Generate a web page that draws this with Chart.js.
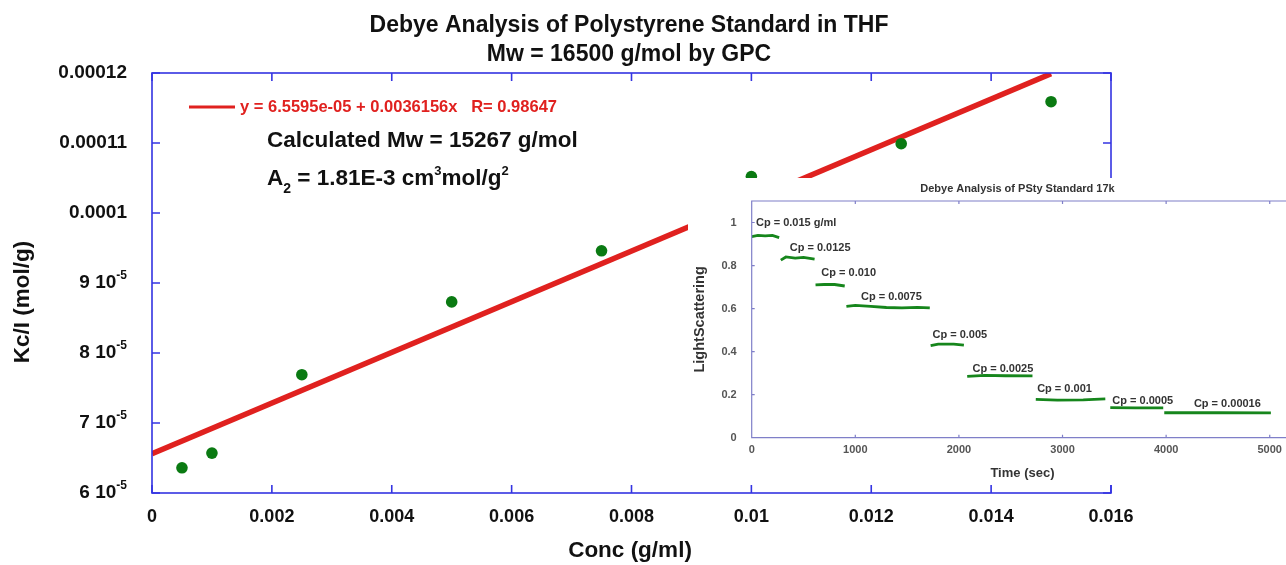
<!DOCTYPE html>
<html>
<head>
<meta charset="utf-8">
<script src="https://cdn.jsdelivr.net/npm/chart.js@4"></script>
<style>
  html, body { margin: 0; padding: 0; background: #fff; overflow: hidden; }
  #wrap { position: relative; width: 1286px; height: 565px; }
  #main { position: absolute; left: 0; top: 0; }
  #inset { position: absolute; left: 688px; top: 178px; background: #fff; }
</style>
</head>
<body>
<div id="wrap">
  <canvas id="main" width="1286" height="565"></canvas>
  <canvas id="inset" width="600" height="307"></canvas>
</div>
<script>
// main chart data
const concValues = [0.0005, 0.001, 0.0025, 0.005, 0.0075, 0.01, 0.0125, 0.015];
const kcValues = [6.36e-5, 6.57e-5, 7.69e-5, 8.73e-5, 9.46e-5, 1.052e-4, 1.099e-4, 1.159e-4];
const fitConc = [0, 0.015];
const fitKc = [6.56e-5, 1.199e-4];

const xTickValues = [0, 0.002, 0.004, 0.006, 0.008, 0.01, 0.012, 0.014, 0.016];
const xTickLabels = ['0', '0.002', '0.004', '0.006', '0.008', '0.01', '0.012', '0.014', '0.016'];
const yTickValues = [6e-5, 7e-5, 8e-5, 9e-5, 1e-4, 1.1e-4, 1.2e-4];
const yTickText = ['6 10', '7 10', '8 10', '9 10', '0.0001', '0.00011', '0.00012'];
const yTickSup = ['-5', '-5', '-5', '-5', '', '', ''];

const titleLines = ['Debye Analysis of Polystyrene Standard in THF', 'Mw = 16500 g/mol by GPC'];
const fitLabel = 'y = 6.5595e-05 + 0.0036156x   R= 0.98647';

// inset: light scattering steps
const stepTimes = [
  [0, 60, 130, 200, 265],
  [281, 330, 420, 500, 607],
  [616, 700, 800, 898],
  [914, 1000, 1150, 1300, 1450, 1600, 1719],
  [1727, 1800, 1950, 2048],
  [2080, 2250, 2450, 2710],
  [2742, 2950, 3200, 3413],
  [3461, 3700, 3972],
  [3982, 4500, 5011]
];
const stepValues = [
  [0.935, 0.94, 0.938, 0.94, 0.93],
  [0.825, 0.84, 0.835, 0.838, 0.83],
  [0.71, 0.712, 0.712, 0.705],
  [0.61, 0.615, 0.61, 0.605, 0.603, 0.606, 0.603],
  [0.428, 0.435, 0.435, 0.43],
  [0.285, 0.29, 0.288, 0.287],
  [0.178, 0.175, 0.176, 0.18],
  [0.14, 0.139, 0.139],
  [0.116, 0.116, 0.115]
];
const cpLabels = ['Cp = 0.015 g/ml', 'Cp = 0.0125', 'Cp = 0.010', 'Cp = 0.0075', 'Cp = 0.005',
  'Cp = 0.0025', 'Cp = 0.001', 'Cp = 0.0005', 'Cp = 0.00016'];
const cpLabelTime = [41, 367, 672, 1055, 1745, 2131, 2755, 3481, 4268];
const cpLabelValue = [1.0, 0.881, 0.765, 0.654, 0.476, 0.318, 0.226, 0.17, 0.156];
const insetXTicks = [0, 1000, 2000, 3000, 4000, 5000];
const insetXLabels = ['0', '1000', '2000', '3000', '4000', '5000'];
const insetYTicks = [0, 0.2, 0.4, 0.6, 0.8, 1];
const insetYLabels = ['0', '0.2', '0.4', '0.6', '0.8', '1'];

const FONT = '"Liberation Sans", Arial, Helvetica, sans-serif';
const axisBlue = '#3434e2';
const pointGreen = '#0a7a12';
const fitRed = '#e0211f';

function drawParts(ctx, parts, x, y) {
  // parts: [text, size, dy]
  let cx = x;
  parts.forEach(p => {
    ctx.font = 'bold ' + p[1] + 'px ' + FONT;
    ctx.fillText(p[0], cx, y + p[2]);
    cx += ctx.measureText(p[0]).width;
  });
}
function partsWidth(ctx, parts) {
  let w = 0;
  parts.forEach(p => {
    ctx.font = 'bold ' + p[1] + 'px ' + FONT;
    w += ctx.measureText(p[0]).width;
  });
  return w;
}

const mainDecor = {
  id: 'mainDecor',
  afterDraw(chart) {
    const ctx = chart.ctx;
    const a = chart.chartArea;
    const xs = chart.scales.x, ys = chart.scales.y;
    ctx.save();

    ctx.fillStyle = '#111';
    ctx.textAlign = 'center';
    ctx.textBaseline = 'middle';
    ctx.font = 'bold 23px ' + FONT;
    ctx.fillText(titleLines[0], 629, 26);
    ctx.fillText(titleLines[1], 629, 55);

    // frame and inward ticks
    ctx.strokeStyle = axisBlue;
    ctx.lineWidth = 1.6;
    ctx.strokeRect(a.left, a.top, a.right - a.left, a.bottom - a.top);
    ctx.beginPath();
    xTickValues.forEach(v => {
      const px = xs.getPixelForValue(v);
      ctx.moveTo(px, a.bottom); ctx.lineTo(px, a.bottom - 8);
      ctx.moveTo(px, a.top); ctx.lineTo(px, a.top + 8);
    });
    yTickValues.forEach(v => {
      const py = ys.getPixelForValue(v);
      ctx.moveTo(a.left, py); ctx.lineTo(a.left + 8, py);
      ctx.moveTo(a.right, py); ctx.lineTo(a.right - 8, py);
    });
    ctx.stroke();

    // y tick labels with exponents
    ctx.textAlign = 'left';
    ctx.fillStyle = '#111';
    yTickValues.forEach((v, i) => {
      const py = ys.getPixelForValue(v);
      const parts = [[yTickText[i], 19, 0]];
      if (yTickSup[i]) parts.push([yTickSup[i], 12, -7]);
      const w = partsWidth(ctx, parts);
      drawParts(ctx, parts, 127 - w, py);
    });

    // axis titles
    ctx.font = 'bold 22.5px ' + FONT;
    ctx.textAlign = 'center';
    ctx.fillText('Conc (g/ml)', 630, 551);
    ctx.save();
    ctx.translate(23, 302);
    ctx.rotate(-Math.PI / 2);
    ctx.fillText('Kc/I (mol/g)', 0, 0);
    ctx.restore();

    // fit legend
    ctx.strokeStyle = fitRed;
    ctx.lineWidth = 3;
    ctx.beginPath();
    ctx.moveTo(a.left + 37, a.top + 34);
    ctx.lineTo(a.left + 83, a.top + 34);
    ctx.stroke();
    ctx.textAlign = 'left';
    ctx.fillStyle = fitRed;
    ctx.font = 'bold 16.5px ' + FONT;
    ctx.fillText(fitLabel, a.left + 88, a.top + 34);

    // annotations
    ctx.fillStyle = '#111';
    ctx.font = 'bold 22.5px ' + FONT;
    ctx.fillText('Calculated Mw = 15267 g/mol', 267, 141);
    drawParts(ctx, [['A', 22.5, 0], ['2', 14, 10], [' = 1.81E-3 cm', 22.5, 0], ['3', 13, -8],
      ['mol/g', 22.5, 0], ['2', 13, -8]], 267, 179);
    ctx.restore();
  }
};

new Chart(document.getElementById('main'), {
  type: 'scatter',
  data: {
    datasets: [
      {
        data: concValues.map((c, i) => ({ x: c, y: kcValues[i] })),
        backgroundColor: pointGreen,
        borderWidth: 0,
        pointRadius: 5.8
      },
      {
        data: fitConc.map((c, i) => ({ x: c, y: fitKc[i] })),
        showLine: true,
        borderColor: fitRed,
        borderWidth: 5.5,
        pointRadius: 0
      }
    ]
  },
  options: {
    responsive: false,
    animation: false,
    devicePixelRatio: 1,
    layout: { padding: { top: 73, right: 175, left: 0, bottom: 0 } },
    plugins: { legend: { display: false }, tooltip: { enabled: false } },
    scales: {
      x: {
        type: 'linear', min: 0, max: 0.016,
        afterBuildTicks: s => { s.ticks = xTickValues.map(v => ({ value: v })); },
        afterFit: s => { s.height = 72; },
        grid: { display: false, drawTicks: false },
        border: { display: false },
        ticks: {
          font: { family: FONT, size: 18, weight: 'bold' }, color: '#111',
          padding: 13, maxRotation: 0, autoSkip: false,
          callback: (v, i) => xTickLabels[i]
        }
      },
      y: {
        type: 'linear', min: 6e-5, max: 1.2e-4,
        afterBuildTicks: s => { s.ticks = yTickValues.map(v => ({ value: v })); },
        afterFit: s => { s.width = 152; },
        grid: { display: false, drawTicks: false },
        border: { display: false },
        ticks: { display: false }
      }
    }
  },
  plugins: [mainDecor]
});

const insetBlue = '#7f7fc8';
const insetDecor = {
  id: 'insetDecor',
  afterDraw(chart) {
    const ctx = chart.ctx;
    const a = chart.chartArea;
    const xs = chart.scales.x, ys = chart.scales.y;
    ctx.save();
    ctx.strokeStyle = insetBlue;
    ctx.lineWidth = 1.2;
    ctx.beginPath();
    ctx.moveTo(a.right + 5, a.top); ctx.lineTo(a.left, a.top);
    ctx.lineTo(a.left, a.bottom); ctx.lineTo(a.right + 5, a.bottom);
    insetXTicks.forEach(v => {
      const px = xs.getPixelForValue(v);
      ctx.moveTo(px, a.bottom); ctx.lineTo(px, a.bottom - 3);
      ctx.moveTo(px, a.top); ctx.lineTo(px, a.top + 3);
    });
    insetYTicks.forEach(v => {
      const py = ys.getPixelForValue(v);
      ctx.moveTo(a.left, py); ctx.lineTo(a.left + 3, py);
    });
    ctx.stroke();

    ctx.fillStyle = '#333';
    ctx.textAlign = 'center';
    ctx.textBaseline = 'middle';
    ctx.font = 'bold 11px ' + FONT;
    ctx.fillText('Debye Analysis of PSty Standard 17k', (a.left + a.right) / 2, 11);
    ctx.font = 'bold 13px ' + FONT;
    ctx.fillText('Time (sec)', (a.left + a.right) / 2 + 5, 295);
    ctx.font = 'bold 14.5px ' + FONT;
    ctx.save();
    ctx.translate(12, (a.top + a.bottom) / 2);
    ctx.rotate(-Math.PI / 2);
    ctx.fillText('LightScattering', 0, 0);
    ctx.restore();

    ctx.textAlign = 'left';
    ctx.font = 'bold 11px ' + FONT;
    ctx.fillStyle = '#333';
    cpLabels.forEach((t, i) => {
      ctx.fillText(t, xs.getPixelForValue(cpLabelTime[i]), ys.getPixelForValue(cpLabelValue[i]));
    });
    ctx.restore();
  }
};

new Chart(document.getElementById('inset'), {
  type: 'scatter',
  data: {
    datasets: stepTimes.map((ts, k) => ({
      data: ts.map((t, i) => ({ x: t, y: stepValues[k][i] })),
      showLine: true,
      borderColor: '#16861c',
      borderWidth: 2.8,
      pointRadius: 0
    }))
  },
  options: {
    responsive: false,
    animation: false,
    devicePixelRatio: 1,
    layout: { padding: { top: 23, right: 1.2, left: 0, bottom: 0 } },
    plugins: { legend: { display: false }, tooltip: { enabled: false } },
    scales: {
      x: {
        type: 'linear', min: 0, max: 5130,
        afterBuildTicks: s => { s.ticks = insetXTicks.map(v => ({ value: v })); },
        afterFit: s => { s.height = 47.3; },
        grid: { display: false, drawTicks: false },
        border: { display: false },
        ticks: {
          font: { family: FONT, size: 11, weight: 'bold' }, color: '#555',
          padding: 6, maxRotation: 0, autoSkip: false,
          callback: (v, i) => insetXLabels[i]
        }
      },
      y: {
        type: 'linear', min: 0, max: 1.1,
        afterBuildTicks: s => { s.ticks = insetYTicks.map(v => ({ value: v })); },
        afterFit: s => { s.width = 63.7; },
        grid: { display: false, drawTicks: false },
        border: { display: false },
        ticks: {
          font: { family: FONT, size: 11, weight: 'bold' }, color: '#555',
          padding: 15, callback: (v, i) => insetYLabels[i]
        }
      }
    }
  },
  plugins: [insetDecor]
});
</script>
</body>
</html>
